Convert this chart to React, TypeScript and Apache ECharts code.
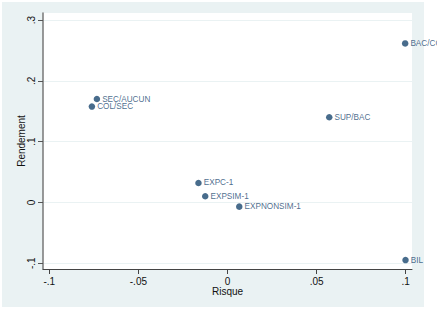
import React, { useEffect, useRef } from "react";
import * as echarts from "echarts";

const labels = ["BAC/CO", "SUP/BAC", "SEC/AUCUN", "COL/SEC", "EXPC-1", "EXPSIM-1", "EXPNONSIM-1", "BIL"];
const risque = [0.0997, 0.0571, -0.0733, -0.0761, -0.0163, -0.0125, 0.0066, 0.0999];
const rendement = [0.2615, 0.14, 0.17, 0.1576, 0.032, 0.0101, -0.007, -0.0949];
const xTicks = [-0.1, -0.05, 0, 0.05, 0.1];
const yTicks = [-0.1, 0, 0.1, 0.2, 0.3];

const fmt = (v: number) => {
  if (Math.abs(v) < 1e-9) return "0";
  const s = String(Math.round(v * 1000) / 1000);
  return s.replace(/^(-?)0\./, "$1.");
};

const NAVY = "#1a476f";
const BG = "#eaf2f3";

export default function App() {
  const ref = useRef<HTMLDivElement>(null);
  useEffect(() => {
    if (!ref.current) return;
    const chart = echarts.init(ref.current, undefined, { renderer: "svg" });
    chart.setOption({
      animation: false,
      backgroundColor: "#ffffff",
      graphic: [
        { type: "rect", z: -10, silent: true, shape: { x: 2, y: 2, width: 422, height: 305 }, style: { fill: BG } },
        { type: "rect", z: -9, silent: true, shape: { x: 43, y: 13, width: 369, height: 256 }, style: { fill: "#ffffff" } },
      ],
      grid: { left: 43, top: 13, right: 25, bottom: 42, containLabel: false },
      xAxis: {
        type: "value",
        min: -0.10354,
        max: 0.10354,
        name: "Risque",
        nameLocation: "middle",
        nameGap: 17,
        nameMoveOverlap: false,
        nameTextStyle: { fontFamily: "Liberation Sans, Arial, sans-serif", fontSize: 10, color: "#111" },
        axisLine: { show: true, onZero: false, lineStyle: { color: "#444", width: 1 } },
        axisTick: { show: true, length: 5, customValues: xTicks, lineStyle: { color: "#444" } },
        axisLabel: {
          customValues: xTicks,
          margin: 7,
          formatter: (v: number) => fmt(v),
          fontFamily: "Liberation Sans, Arial, sans-serif",
          fontSize: 10,
          color: "#111",
        },
        splitLine: { show: false },
      },
      yAxis: {
        type: "value",
        min: -0.10956,
        max: 0.31154,
        name: "Rendement",
        nameLocation: "middle",
        nameRotate: 90,
        nameGap: 17,
        nameMoveOverlap: false,
        nameTextStyle: { fontFamily: "Liberation Sans, Arial, sans-serif", fontSize: 10, color: "#111" },
        axisLine: { show: true, onZero: false, lineStyle: { color: "#777", width: 1.5 } },
        axisTick: { show: true, length: 5, customValues: yTicks, lineStyle: { color: "#555" } },
        axisLabel: {
          customValues: yTicks,
          rotate: 90,
          margin: 7,
          formatter: (v: number) => fmt(v),
          fontFamily: "Liberation Sans, Arial, sans-serif",
          fontSize: 10,
          color: "#111",
        },
        splitLine: { show: false },
      },
      series: [
        {
          type: "scatter",
          symbol: "circle",
          symbolSize: 6.5,
          itemStyle: { color: NAVY },
          data: risque.map((x, i) => ({ value: [x, rendement[i]], name: labels[i] })),
          label: {
            show: true,
            position: "right",
            distance: 2,
            formatter: (p: any) => p.name,
            fontFamily: "Liberation Sans, Arial, sans-serif",
            fontSize: 8.2,
            color: NAVY,
          },
          markLine: {
            silent: true,
            symbol: "none",
            label: { show: false },
            lineStyle: { color: BG, width: 1, type: "solid" },
            data: yTicks.map((y) => ({ yAxis: y })),
            z: 0,
          },
          z: 3,
        },
      ],
    });
    return () => chart.dispose();
  }, []);
  return <div ref={ref} style={{ width: 437, height: 311, position: "absolute", left: 0, top: 0 }} />;
}
